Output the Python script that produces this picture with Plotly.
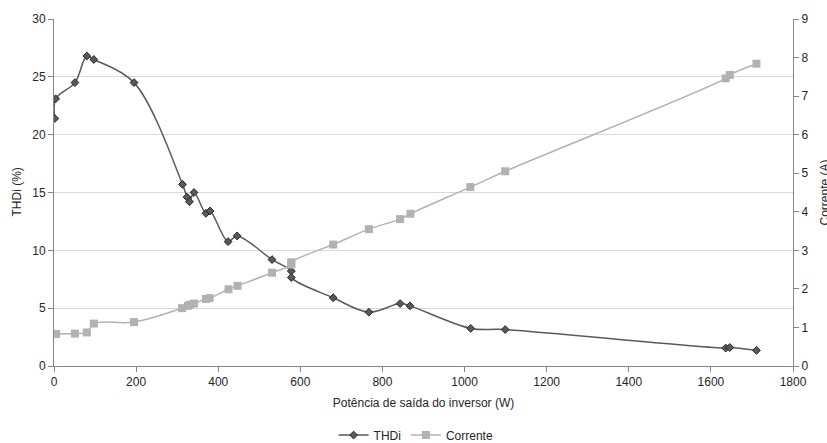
import plotly.graph_objects as go

# THDi series (left axis)
thd_x = [2, 4, 51, 80, 97, 195, 313, 324, 330, 341, 370, 380, 424, 446, 531,
         578, 578, 680, 767, 843, 867, 1015, 1099, 1636, 1646, 1711]
thd_y = [21.4, 23.1, 24.5, 26.8, 26.5, 24.5, 15.7, 14.6, 14.2, 15.0, 13.2, 13.4,
         10.75, 11.25, 9.2, 8.2, 7.65, 5.9, 4.65, 5.4, 5.2, 3.25, 3.15, 1.55, 1.6, 1.35]

# Corrente series (right axis)
cor_x = [5, 51, 80, 97, 195, 312, 326, 331, 341, 370, 379, 425, 447, 531,
         578, 578, 680, 767, 843, 868, 1014, 1099, 1636, 1646, 1711]
cor_y = [0.83, 0.84, 0.87, 1.10, 1.14, 1.50, 1.56, 1.59, 1.62, 1.74, 1.76, 1.99, 2.08, 2.42,
         2.63, 2.69, 3.15, 3.55, 3.81, 3.95, 4.64, 5.05, 7.46, 7.55, 7.84]

x_ticks = [0, 200, 400, 600, 800, 1000, 1200, 1400, 1600, 1800]

FONT = "Liberation Sans, Arial, sans-serif"
AXIS = "#868686"
GRID = "#d9d9d9"

fig = go.Figure()
fig.add_trace(go.Scatter(
    x=thd_x, y=thd_y, name="THDi", mode="lines+markers",
    line=dict(color="#595959", width=1.5, shape="spline", smoothing=1),
    marker=dict(symbol="diamond", size=6, color="#595959",
                line=dict(color="#262626", width=1)),
    yaxis="y",
))
fig.add_trace(go.Scatter(
    x=cor_x, y=cor_y, name="Corrente", mode="lines+markers",
    line=dict(color="#b2b2b2", width=1.5, shape="spline", smoothing=1),
    marker=dict(symbol="square", size=8, color="#b2b2b2"),
    yaxis="y2",
))

fig.update_layout(
    width=827, height=443,
    margin=dict(l=54, r=34, t=19, b=77),
    paper_bgcolor="white", plot_bgcolor="white",
    font=dict(family=FONT, size=12, color="#262626"),
    showlegend=True,
    legend=dict(orientation="h", xref="paper", x=0.49, xanchor="center",
                yref="container", y=0.018, yanchor="middle",
                font=dict(size=12), itemwidth=30, tracegroupgap=0),
    xaxis=dict(
        range=[0, 1800], tickvals=x_ticks, showgrid=False, zeroline=False,
        showline=True, linecolor=AXIS, linewidth=1,
        ticks="outside", ticklen=5, tickcolor=AXIS,
        title=dict(text="Potência de saída do inversor (W)", font=dict(size=12), standoff=10),
    ),
    yaxis=dict(
        range=[0, 30], dtick=5, showgrid=True, gridcolor=GRID, gridwidth=1, zeroline=False,
        showline=True, linecolor=AXIS, linewidth=1,
        ticks="outside", ticklen=5, tickcolor=AXIS,
    ),
    yaxis2=dict(
        range=[0, 9], dtick=1, overlaying="y", side="right", showgrid=False, zeroline=False,
        showline=True, linecolor=AXIS, linewidth=1,
        ticks="outside", ticklen=5, tickcolor=AXIS,
    ),
    annotations=[
        dict(text="THDi (%)", xref="paper", yref="paper", x=-0.0514, y=0.5,
             xanchor="center", yanchor="middle", textangle=-90, showarrow=False,
             font=dict(size=12)),
        dict(text="Corrente (A)", xref="paper", yref="paper", x=1.042, y=0.5,
             xanchor="center", yanchor="middle", textangle=-90, showarrow=False,
             font=dict(size=12)),
    ],
)

fig.write_html("out.html")
